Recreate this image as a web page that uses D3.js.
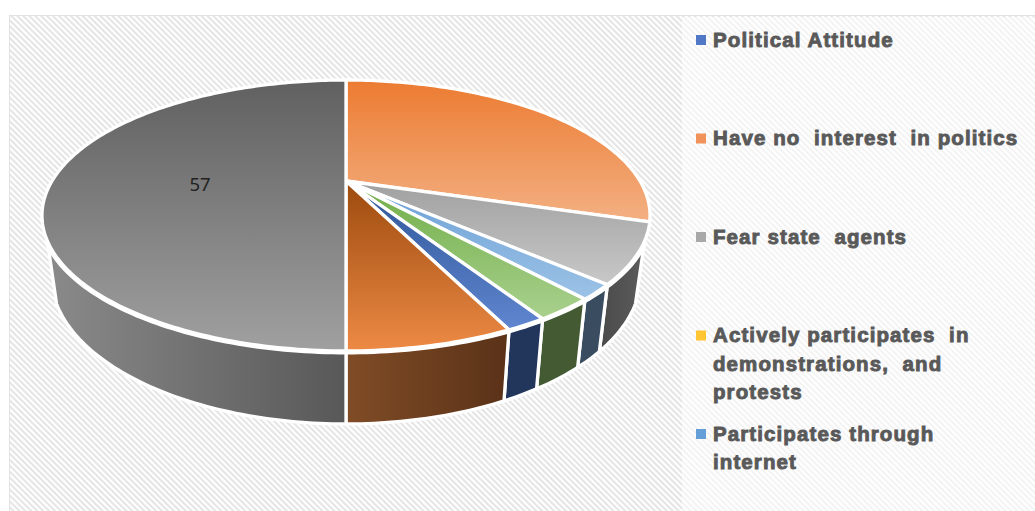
<!DOCTYPE html>
<html>
<head>
<meta charset="utf-8">
<script src="https://cdn.jsdelivr.net/npm/d3@7"></script>
<style>
html,body{margin:0;padding:0;background:#fff;overflow:hidden;}
svg{display:block;}
.legend text{font-family:"Liberation Sans",Arial,sans-serif;font-weight:bold;font-size:20.5px;letter-spacing:1.1px;fill:#595959;stroke:#595959;stroke-width:.9px;white-space:pre;}
</style>
</head>
<body>
<svg id="chart" width="1035" height="511"></svg>
<script>
// slices clockwise from the top, zero slices have no visible wedge
var sliceValues = [0,34,8,0,2,3,2,8,57];
var shownValues = ["","","","","","","","","57"];
var legendLabels = ["Political Attitude","Have no  interest  in politics","Fear state  agents","Actively participates  in\ndemonstrations,  and\nprotests","Participates through\ninternet"];
var legendColors = ["#5078c4","#f0925a","#a8a8a8","#ffc533","#659fd8"];
// gradient colours of each slice: top surface from/to, wall from/to
var topFrom  = ["#2f5597","#ec7b31","#a0a0a0","#bf9000","#6a9fd6","#70ad47","#2f5597","#9c4a0e","#606060"];
var topTo    = ["#5b82cc","#f3b083","#c8c8c8","#ffd966","#9dc3e6","#a9d18e","#5f86cf","#ed8a45","#a0a0a0"];
var wallFrom = ["#203864","#7f4a24","#4a4a4a","#7f6000","#3a4d60","#435a32","#22355a","#804c26","#8a8a8a"];
var wallTo   = ["#203864","#7f4a24","#5c5c5c","#7f6000","#3a4d60","#435a32","#22355a","#5a3218","#585858"];

var svg = d3.select("#chart");
var defs = svg.append("defs");

// background hatch
var hatch = defs.append("pattern").attr("id","hatch").attr("patternUnits","userSpaceOnUse")
	.attr("width",4.2).attr("height",4.2).attr("patternTransform","rotate(-45)");
hatch.append("rect").attr("width",4.2).attr("height",4.2).attr("fill","#fff");
hatch.append("rect").attr("width",2).attr("height",4.2).attr("fill","#e4e4e4");

svg.append("rect").attr("x",9.5).attr("y",15.5).attr("width",1030).attr("height",500)
	.attr("fill","url(#hatch)").attr("stroke","#e2e2e2");
// legend sits on a lighter panel
svg.append("rect").attr("x",682).attr("y",17).attr("width",353).attr("height",494)
	.attr("fill","#fff").attr("opacity",.55);

// perspective of the pie: top disk and bottom disk
var centerX = 346, tilt = -0.2546;
function project(angle, r, disk){
	var u = r*Math.sin(angle), v = -r*Math.cos(angle), w = 1 + tilt*v;
	return [centerX + disk.rx*u/w, disk.apex + disk.ry*v/w];
}
var topDisk = {rx:294, ry:126.7, apex:181};
var bottomDisk = {rx:285, ry:138.4, apex:238.3};

// the wall can only be seen between these angles
var wallStart = 115*Math.PI/180, wallEnd = 245*Math.PI/180;

var pie = d3.pie().sort(null).startAngle(0).endAngle(2*Math.PI);
var slices = pie(sliceValues);
var line = d3.line();
var step = Math.PI/180;

function arcPoints(a0, a1, disk){
	return d3.range(a0, a1, step).concat([a1]).map(function(a){ return project(a,1,disk); });
}

function addGradient(id, x2, y2, from, to){
	var g = defs.append("linearGradient").attr("id",id)
		.attr("x1",0).attr("y1",0).attr("x2",x2).attr("y2",y2);
	g.append("stop").attr("offset","0%").attr("stop-color",from);
	g.append("stop").attr("offset","100%").attr("stop-color",to);
}
slices.forEach(function(d,i){
	addGradient("top"+i,0,1,topFrom[i],topTo[i]);
	addGradient("wall"+i,1,0,wallFrom[i],wallTo[i]);
});

// walls first
svg.append("g").selectAll("path")
	.data(slices.filter(function(d){
		return d.value>0 && Math.min(d.endAngle,wallEnd) > Math.max(d.startAngle,wallStart);
	}))
	.enter().append("path")
	.attr("d",function(d){
		var a0 = Math.max(d.startAngle,wallStart), a1 = Math.min(d.endAngle,wallEnd);
		return line(arcPoints(a0,a1,topDisk).concat(arcPoints(a0,a1,bottomDisk).reverse()))+"Z";
	})
	.attr("fill",function(d){ return "url(#wall"+d.index+")"; })
	.attr("stroke","#fff").attr("stroke-width",3.3).attr("stroke-linejoin","round");

// white band between the top surface and the walls
svg.append("path")
	.attr("d",line(arcPoints(wallStart,wallEnd,topDisk)))
	.attr("fill","none").attr("stroke","#fff").attr("stroke-width",7);

// top surface
svg.append("g").selectAll("path")
	.data(slices.filter(function(d){ return d.value>0; }))
	.enter().append("path")
	.attr("d",function(d){
		return line([project(0,0,topDisk)].concat(arcPoints(d.startAngle,d.endAngle,topDisk)))+"Z";
	})
	.attr("fill",function(d){ return "url(#top"+d.index+")"; })
	.attr("stroke","#fff").attr("stroke-width",3.3).attr("stroke-linejoin","round");

// value labels
svg.append("g").selectAll("text")
	.data(slices.filter(function(d){ return shownValues[d.index]!==""; }))
	.enter().append("text")
	.attr("x",function(d){ return project((d.startAngle+d.endAngle)/2,.5,topDisk)[0]+1; })
	.attr("y",function(d){ return project((d.startAngle+d.endAngle)/2,.5,topDisk)[1]+9.5; })
	.attr("text-anchor","middle")
	.style("font-family","'Noto Sans',sans-serif").style("font-size","18.5px").attr("fill","#222")
	.text(function(d){ return shownValues[d.index]; });

// legend
var legendY = d3.scalePoint().domain(legendLabels).range([40,434]);
var legendColor = d3.scaleOrdinal().domain(legendLabels).range(legendColors);
var legend = svg.append("g").attr("class","legend").selectAll("g")
	.data(legendLabels).enter().append("g")
	.attr("transform",function(d){ return "translate(696,"+legendY(d)+")"; });
legend.append("rect").attr("y",-5).attr("width",10).attr("height",10)
	.attr("fill",function(d){ return legendColor(d); });
legend.append("text").attr("x",17).attr("y",6.5)
	.selectAll("tspan").data(function(d){ return d.split("\n"); })
	.enter().append("tspan").attr("x",17)
	.attr("dy",function(d,i){ return i==0 ? 0 : 28.5; })
	.text(function(d){ return d; });
</script>
</body>
</html>
